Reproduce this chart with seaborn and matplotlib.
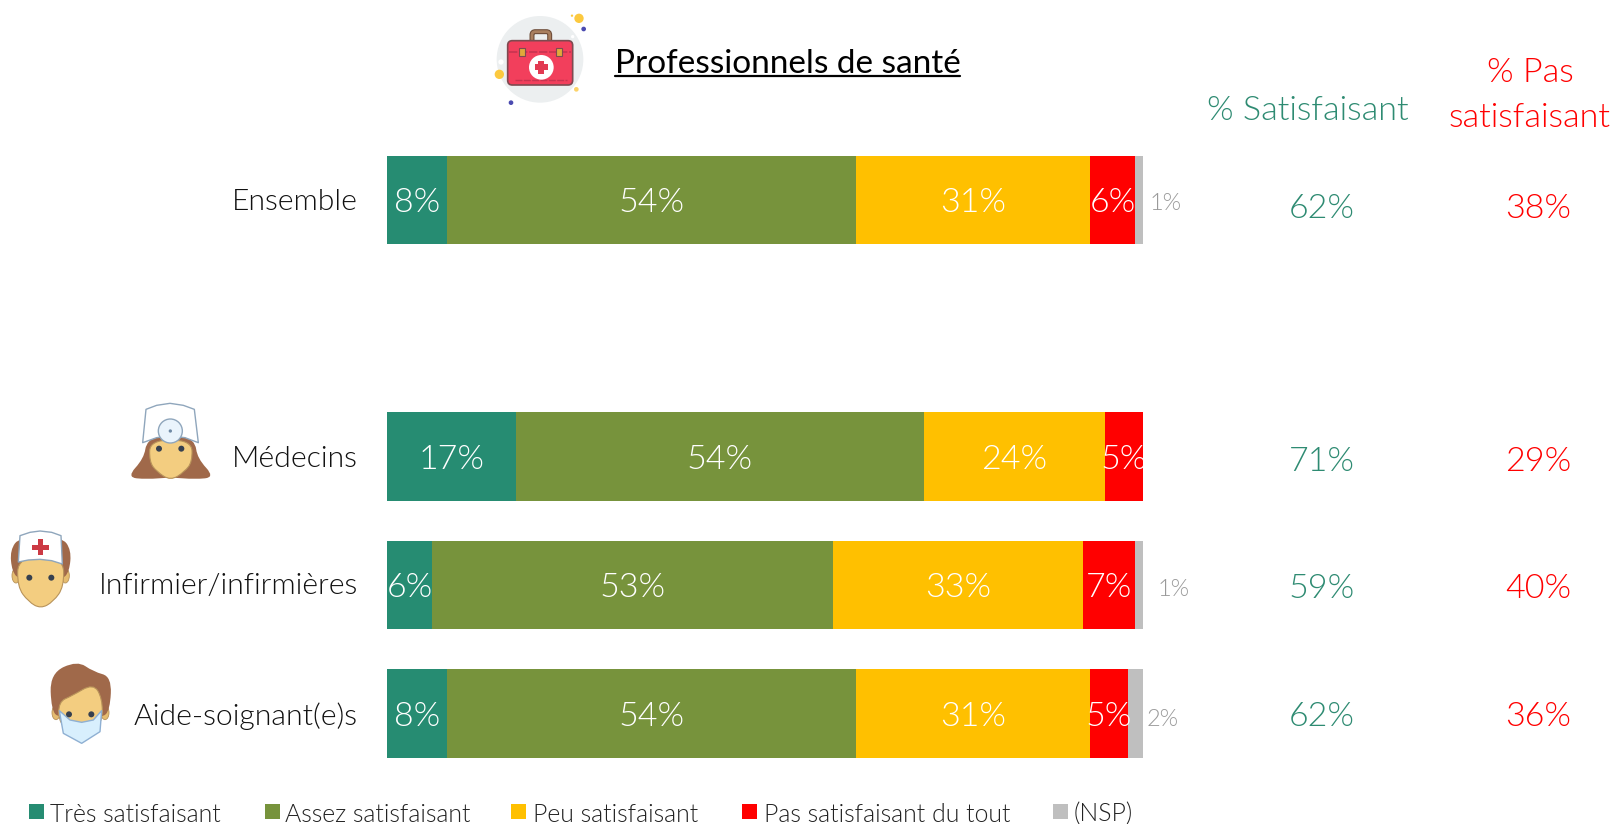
import matplotlib
matplotlib.use('Agg')
import matplotlib.pyplot as plt
import seaborn as sns
import numpy as np
from matplotlib.path import Path
from matplotlib.patches import PathPatch, Circle, Ellipse, Rectangle, FancyBboxPatch
from matplotlib.transforms import Affine2D

# --- data ---
categories = ['Ensemble', ' ', 'Médecins', 'Infirmier/infirmières', 'Aide-soignant(e)s']
tres = [8, 0, 17, 6, 8]
assez = [54, 0, 54, 53, 54]
peu = [31, 0, 24, 33, 31]
pas_du_tout = [6, 0, 5, 7, 5]
nsp = [1, 0, 0, 1, 2]
pct_satisfait = ['62%', '', '71%', '59%', '62%']
pct_pas_satisfait = ['38%', '', '29%', '40%', '36%']

series_names = ['Très satisfaisant', 'Assez satisfaisant', 'Peu satisfaisant',
                'Pas satisfaisant du tout', '(NSP)']
series_values = [tres, assez, peu, pas_du_tout, nsp]
series_colors = ['#268C72', '#77933C', '#FFC000', '#FF0000', '#BFBFBF']

sns.set_theme(style='white')
plt.rcParams['font.family'] = ['Lato', 'DejaVu Sans']
GREEN = '#2E8B72'
FW = 300

fig = plt.figure(figsize=(16.16, 8.24), dpi=100)

# overlay in pixels for text and icons
ax_px = fig.add_axes([0, 0, 1, 1])
ax_px.set_xlim(0, 1616)
ax_px.set_ylim(824, 0)
ax_px.axis('off')

# bars axes: 0-100 % between x=387 and x=1143
ax = fig.add_axes([387 / 1616, 1 - 777.7 / 824, 756 / 1616, 642 / 824])
lefts = np.zeros(len(categories))
for name, vals, col in zip(series_names, series_values, series_colors):
    sns.barplot(x=vals, y=categories, left=lefts, color=col, saturation=1,
                width=0.69, linewidth=0, order=categories, ax=ax)
    # valeurs dans les barres (sauf NSP)
    for i, v in enumerate(vals):
        if v > 0 and name != '(NSP)':
            ax.text(lefts[i] + v / 2, i, f'{v}%', color='white', fontsize=24.5,
                    fontweight=FW, ha='center', va='center_baseline', clip_on=False)
    lefts = lefts + np.array(vals)
ax.set_xlim(0, 100)
ax.set_ylim(4.5, -0.5)
ax.axis('off')

# NSP labels outside the bars
nsp_x = [1166, None, None, 1174, 1163]
nsp_y = [201, None, None, 587, 717]
for i, x in enumerate(nsp_x):
    if x is not None:
        ax_px.text(x, nsp_y[i], f'{nsp[i]}%', color='#9A9A9A', fontsize=17,
                   fontweight=FW, ha='center', va='center_baseline')

# row labels and right hand columns
label_y = [199, 0, 456, 584, 714]
col_y = [206, 0, 459, 586, 714]
for i, cat in enumerate(categories):
    if cat.strip() == '':
        continue
    ax_px.text(358, label_y[i], cat, ha='right', va='center_baseline', fontsize=21.7,
               fontweight=FW, color='#111111')
    ax_px.text(1322, col_y[i], pct_satisfait[i], ha='center', va='center_baseline',
               fontsize=24.5, fontweight=FW, color=GREEN)
    ax_px.text(1538, col_y[i], pct_pas_satisfait[i], ha='center', va='center_baseline',
               fontsize=24.5, fontweight=FW, color='#FF0000')

# headers
ax_px.text(1308, 107.5, '% Satisfaisant', ha='center', va='center_baseline', fontsize=24.6,
           fontweight=FW, color=GREEN)
ax_px.text(1530, 69.5, '% Pas', ha='center', va='center_baseline', fontsize=24.6,
           fontweight=FW, color='#FF0000')
ax_px.text(1530, 114.5, 'satisfaisant', ha='center', va='center_baseline', fontsize=24.6,
           fontweight=FW, color='#FF0000')

# title
ax_px.text(615, 60.5, 'Professionnels de santé', ha='left', va='center_baseline', fontsize=24,
           color='black')
ax_px.plot([615, 960], [76, 76], color='black', lw=1.6)

# legend
leg_sq = [29, 265, 511, 742, 1053]
leg_tx = [50, 285, 533, 764, 1074]
for sq, tx, name, col in zip(leg_sq, leg_tx, series_names, series_colors):
    ax_px.add_patch(Rectangle((sq, 804), 15, 15, color=col, lw=0))
    ax_px.text(tx, 812, name, ha='left', va='center_baseline', fontsize=17.9,
               fontweight=FW, color='#222222')


# --- icons, coordinates taken from the zoomed crops (3x) ---
def blob(points, fc, ec='none', lw=0.8, tr=None, z=3):
    pts = np.array(points, dtype=float)
    mids = (pts + np.roll(pts, -1, axis=0)) / 2
    verts = [mids[-1]]
    codes = [Path.MOVETO]
    for p, m in zip(pts, mids):
        verts += [p, m]
        codes += [Path.CURVE3, Path.CURVE3]
    ax_px.add_patch(PathPatch(Path(verts, codes), fc=fc, ec=ec, lw=lw, transform=tr, zorder=z))


def poly(points, fc, ec='none', lw=0.8, tr=None, z=3):
    ax_px.add_patch(plt.Polygon(points, closed=True, fc=fc, ec=ec, lw=lw, transform=tr,
                                zorder=z, joinstyle='round'))


def dot(x, y, r, fc, ec='none', lw=0.8, tr=None, z=4):
    ax_px.add_patch(Circle((x, y), r, fc=fc, ec=ec, lw=lw, transform=tr, zorder=z))


HAIR = '#A0694A'
SKIN = '#F3CD80'
SKIN_EDGE = '#B8935A'
EYE = '#36404F'
HAT_EDGE = '#8FA6BC'

tr_p = Affine2D().scale(1 / 3).translate(0, 390) + ax_px.transData

# doctor
blob([(440, 150), (432, 205), (380, 262), (440, 268), (512, 262), (585, 268), (645, 262),
      (592, 205), (585, 150), (512, 120)], HAIR, tr=tr_p)
blob([(450, 150), (448, 215), (470, 245), (512, 272), (554, 245), (577, 215), (575, 150)],
     SKIN, SKIN_EDGE, tr=tr_p)
poly([(428, 158), (438, 58), (470, 46), (510, 40), (550, 46), (583, 58), (595, 158),
      (555, 143), (512, 138), (470, 143)], 'white', HAT_EDGE, lw=1, tr=tr_p)
dot(511, 123, 36, '#EAF4FC', HAT_EDGE, lw=1, tr=tr_p)
dot(511, 123, 5, '#6F8AA5', tr=tr_p)
dot(477, 176, 9, EYE, tr=tr_p)
dot(544, 176, 9, EYE, tr=tr_p)

# nurse
ax_px.add_patch(Ellipse((48, 557), 24, 44, fc='#E5BC70', ec=SKIN_EDGE, lw=0.6, transform=tr_p, zorder=2))
ax_px.add_patch(Ellipse((196, 557), 24, 44, fc='#E5BC70', ec=SKIN_EDGE, lw=0.6, transform=tr_p, zorder=2))
blob([(60, 440), (30, 480), (36, 545), (60, 570), (185, 570), (208, 545), (214, 480), (185, 440)],
     HAIR, tr=tr_p)
blob([(54, 500), (52, 590), (85, 635), (122, 656), (160, 635), (192, 590), (190, 500)],
     SKIN, SKIN_EDGE, tr=tr_p)
poly([(60, 437), (90, 427), (120, 423), (155, 427), (183, 437), (187, 522), (155, 512),
      (120, 508), (85, 510), (55, 516)], 'white', HAT_EDGE, lw=1, tr=tr_p)
poly([(114, 447), (130, 447), (130, 464), (147, 464), (147, 479), (130, 479), (130, 495),
      (114, 495), (114, 479), (97, 479), (97, 464), (114, 464)], '#CC3A44', tr=tr_p, z=4)
dot(88, 563, 9, EYE, tr=tr_p)
dot(154, 563, 9, EYE, tr=tr_p)

# aide-soignant with mask
ax_px.add_patch(Ellipse((168, 968), 24, 42, fc='#E5BC70', ec=SKIN_EDGE, lw=0.6, transform=tr_p, zorder=2))
ax_px.add_patch(Ellipse((315, 968), 24, 42, fc='#E5BC70', ec=SKIN_EDGE, lw=0.6, transform=tr_p, zorder=2))
blob([(154, 960), (150, 850), (232, 812), (280, 845), (335, 860), (330, 960), (305, 985),
      (178, 985)], HAIR, tr=tr_p, z=3)
blob([(176, 1000), (176, 935), (215, 918), (280, 880), (307, 925), (307, 1000), (245, 1070)],
     SKIN, SKIN_EDGE, tr=tr_p, z=4)
poly([(178, 962), (210, 990), (245, 997), (280, 990), (305, 962), (300, 1025), (245, 1060), (190, 1030)],
     '#D8EFFD', '#8FB0D3', lw=1, tr=tr_p, z=5)
dot(207, 973, 9, EYE, tr=tr_p, z=6)
dot(274, 973, 9, EYE, tr=tr_p, z=6)

# medical bag
tr_b = Affine2D().scale(1 / 3).translate(470, 0) + ax_px.transData
dot(210, 178, 130, '#ECEFF0', tr=tr_b, z=2)
dot(93, 186, 8, 'white', tr=tr_b, z=3)
dot(308, 110, 5, 'white', tr=tr_b, z=3)
ax_px.add_patch(FancyBboxPatch((186, 95), 53, 40, boxstyle='round,pad=0,rounding_size=10', fc='none',
                               ec='#6F4E3A', lw=3.6, transform=tr_b, zorder=3))
ax_px.add_patch(FancyBboxPatch((186, 95), 53, 40, boxstyle='round,pad=0,rounding_size=10', fc='none',
                               ec='#A97F5F', lw=2, transform=tr_b, zorder=3))
ax_px.add_patch(FancyBboxPatch((113, 122), 195, 133, boxstyle='round,pad=0,rounding_size=14', fc='#F23F5C',
                               ec='#7E4A50', lw=1.2, transform=tr_b, zorder=4))
ax_px.plot([118, 303], [155, 155], color='#C73450', lw=1.2, ls=(0, (5, 1)), transform=tr_b, zorder=5)
ax_px.plot([135, 290], [240, 240], color='#C73450', lw=1, ls=(0, (5, 1)), transform=tr_b, zorder=5)
ax_px.add_patch(Rectangle((147, 145), 17, 24, fc='#E0A93A', ec='#7E4A50', lw=0.8, transform=tr_b, zorder=6))
ax_px.add_patch(Rectangle((259, 145), 17, 24, fc='#E0A93A', ec='#7E4A50', lw=0.8, transform=tr_b, zorder=6))
dot(214, 202, 37, 'white', tr=tr_b, z=6)
poly([(205, 183), (223, 183), (223, 193), (234, 193), (234, 211), (223, 211), (223, 221),
      (205, 221), (205, 211), (194, 211), (194, 193), (205, 193)], '#E23A52', tr=tr_b, z=7)
dot(327, 55, 14, '#FCC93F', tr=tr_b)
dot(306, 47, 3.5, '#FCC93F', tr=tr_b)
dot(88, 223, 14, '#FCC93F', tr=tr_b)
dot(319, 268, 7, '#FCD36A', tr=tr_b)
dot(341, 87, 7, '#4A4AB0', tr=tr_b)
dot(123, 308, 7, '#4A4AB0', tr=tr_b)

fig.savefig('out.png', dpi=100)
